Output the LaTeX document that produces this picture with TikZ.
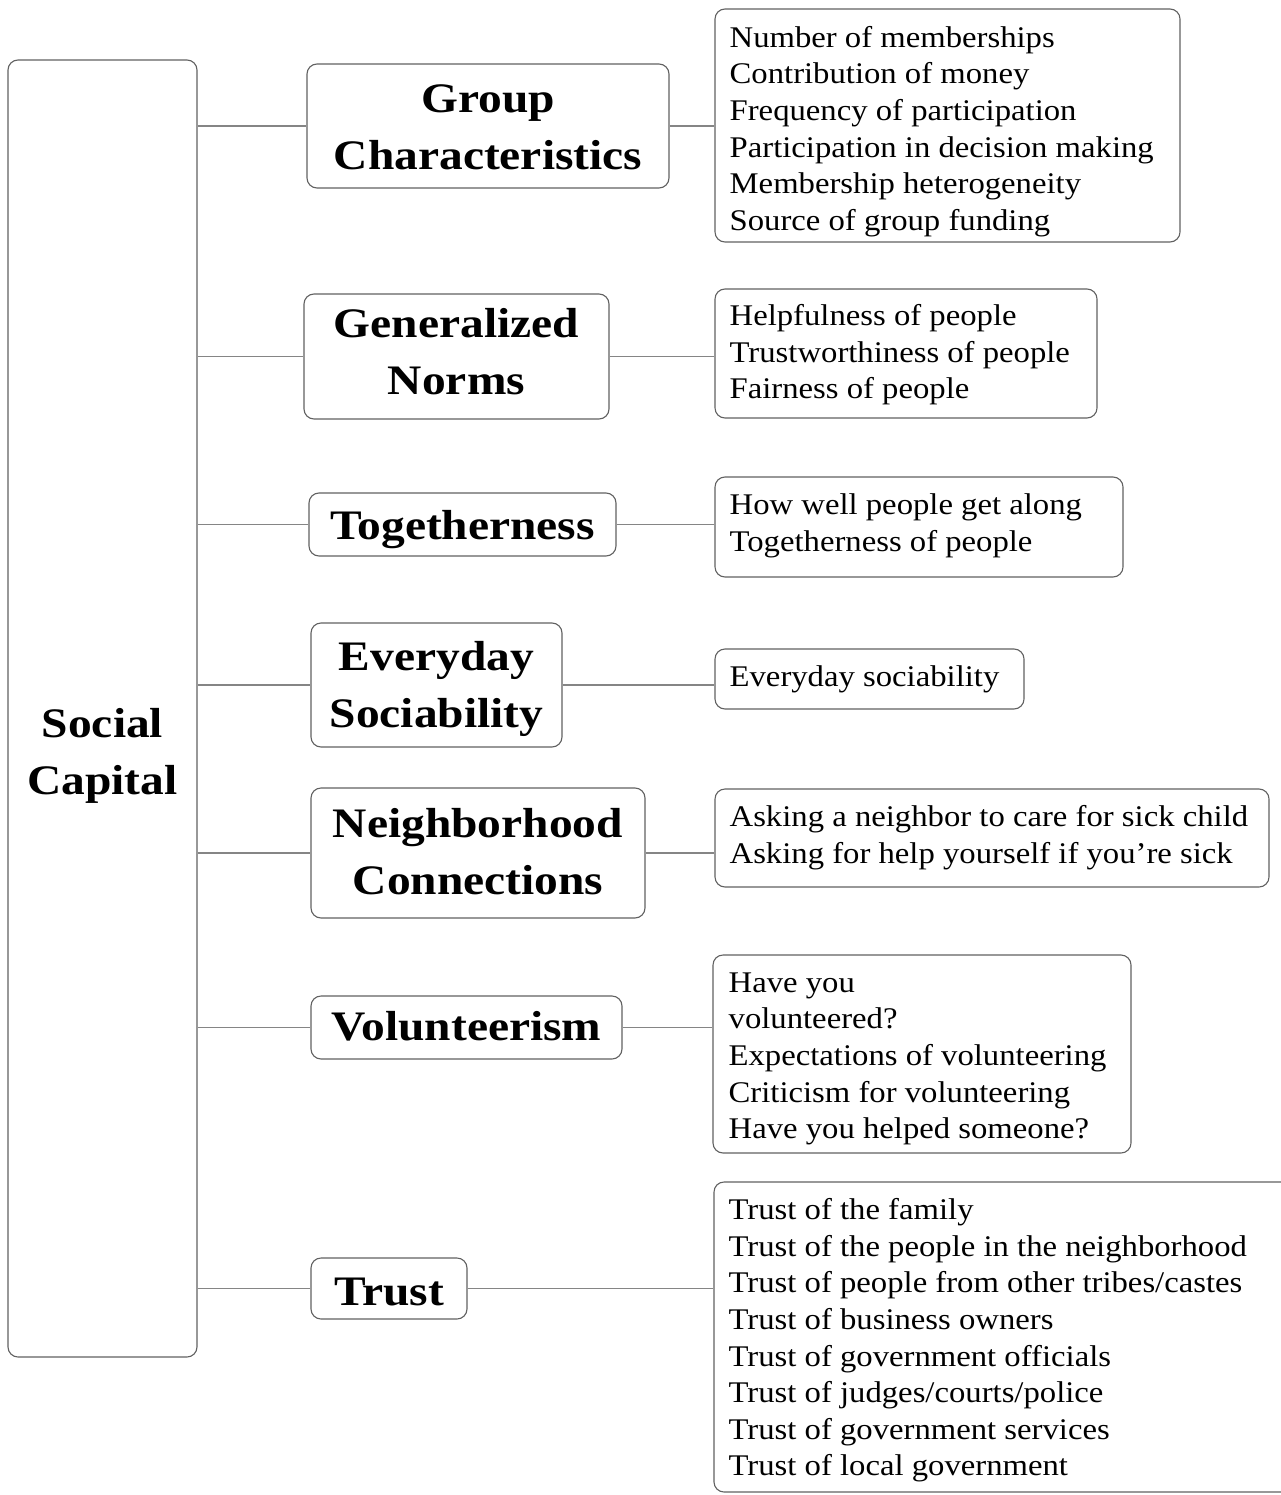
\documentclass[tikz,border=0pt]{standalone}
\usepackage{fontspec}
\setmainfont{Liberation Serif}
\newfontfamily\detfont[FakeStretch=1.09]{Liberation Serif}
\newfontfamily\catfont[FakeStretch=1.13]{Liberation Serif}
\tikzset{
  boxline/.style={draw=black!62, line width=1.1pt, rounded corners=10pt, fill=white, inner sep=0pt},
  cattext/.style={align=center, inner sep=0pt,
    font=\catfont\bfseries\fontsize{42}{57}\selectfont},
  dettext/.style={align=left, inner sep=0pt, anchor=west, xshift=15pt,
    font=\detfont\fontsize{30}{36.6}\selectfont},
  link/.style={draw=black!48, line width=1.3pt}
}
\begin{document}
\begin{tikzpicture}[x=1pt,y=-1pt]
\useasboundingbox (0,0) rectangle (1281,1495);
\clip (0,0) rectangle (1281,1495);

% root
\node[boxline, minimum width=189pt, minimum height=1297pt,
  label={[cattext, yshift=-47pt]center:Social\\Capital}] (root) at (102.5,708.5) {};

% categories
\node[boxline, minimum width=362pt, minimum height=124pt,
  label={[cattext, yshift=-1pt]center:Group\\Characteristics}] (c1) at (488,126) {};
\node[boxline, minimum width=305pt, minimum height=125pt,
  label={[cattext, yshift=5pt]center:Generalized\\Norms}] (c2) at (456.5,356.5) {};
\node[boxline, minimum width=307pt, minimum height=63pt,
  label={[cattext, yshift=-5pt]center:Togetherness}] (c3) at (462.5,524.5) {};
\node[boxline, minimum width=251pt, minimum height=124pt,
  label={[cattext, yshift=-4pt]center:Everyday\\Sociability}] (c4) at (436.5,685) {};
\node[boxline, minimum width=334pt, minimum height=130pt,
  label={[cattext, yshift=1.5pt]center:Neighborhood\\Connections}] (c5) at (478,853) {};
\node[boxline, minimum width=311pt, minimum height=63pt,
  label={[cattext, yshift=1pt]center:Volunteerism}] (c6) at (466.5,1027.5) {};
\node[boxline, minimum width=156pt, minimum height=61pt,
  label={[cattext, yshift=-3pt]center:Trust}] (c7) at (389,1288.5) {};

% details
\node[boxline, minimum width=465pt, minimum height=233pt,
  label={[dettext, yshift=-6pt]west:Number of memberships\\Contribution of money\\Frequency of participation\\Participation in decision making\\Membership heterogeneity\\Source of group funding}] (d1) at (947.5,125.5) {};
\node[boxline, minimum width=382pt, minimum height=129pt,
  label={[dettext, yshift=-1.5pt]west:Helpfulness of people\\Trustworthiness of people\\Fairness of people}] (d2) at (906,353.5) {};
\node[boxline, minimum width=408pt, minimum height=100pt,
  label={[dettext, yshift=1pt]west:How well people get along\\Togetherness of people}] (d3) at (919,527) {};
\node[boxline, minimum width=309pt, minimum height=60pt,
  label={[dettext, yshift=0pt]west:Everyday sociability}] (d4) at (869.5,679) {};
\node[boxline, minimum width=554pt, minimum height=98pt,
  label={[dettext, yshift=0.5pt]west:Asking a neighbor to care for sick child\\Asking for help yourself if you’re sick}] (d5) at (992,838) {};
\node[boxline, minimum width=418pt, minimum height=198pt,
  label={[dettext, yshift=-5pt, xshift=1pt]west:Have you\\volunteered?\\Expectations of volunteering\\Criticism for volunteering\\Have you helped someone?}] (d6) at (922,1054) {};
\node[boxline, minimum width=586pt, minimum height=310pt,
  label={[dettext, yshift=-3.5pt]west:Trust of the family\\Trust of the people in the neighborhood\\Trust of people from other tribes/castes\\Trust of business owners\\Trust of government officials\\Trust of judges/courts/police\\Trust of government services\\Trust of local government}] (d7) at (1007,1337) {};

% connectors root -> categories
\foreach \c in {c1,c2,c3,c4,c5,c6,c7}
  \draw[link] (root.east |- \c.west) -- (\c.west);
% connectors categories -> details
\foreach \c/\d in {c1/d1,c2/d2,c3/d3,c4/d4,c5/d5,c6/d6,c7/d7}
  \draw[link] (\c.east) -- (\c.east -| \d.west);
\end{tikzpicture}
\end{document}
